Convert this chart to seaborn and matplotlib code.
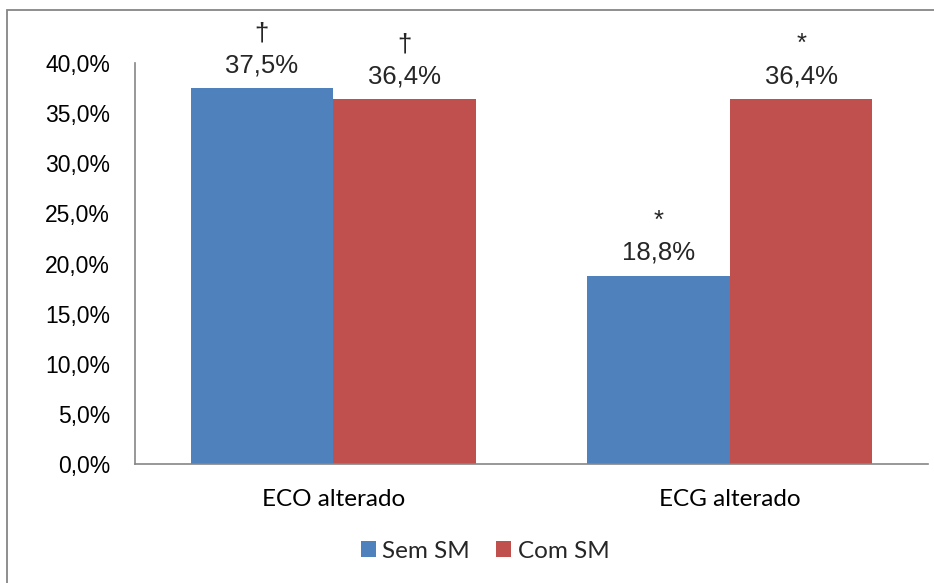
import pandas as pd
import seaborn as sns
import matplotlib.pyplot as plt
from matplotlib.patches import Rectangle

# data
categories = ['ECO alterado', 'ECG alterado']
groups = ['Sem SM', 'Com SM']
sem_sm = [37.5, 18.8]
com_sm = [36.4, 36.4]
sem_marks = ['†', '*']
com_marks = ['†', '*']
yticks = [0, 5, 10, 15, 20, 25, 30, 35, 40]

colors = ['#4F81BD', '#C0504D']
grey = '#868686'

sns.set_theme(style='white')
plt.rcParams['font.family'] = ['Liberation Sans', 'DejaVu Sans']

df = pd.DataFrame({
    'categoria': categories * 2,
    'grupo': [groups[0]] * len(categories) + [groups[1]] * len(categories),
    'valor': sem_sm + com_sm,
})

fig = plt.figure(figsize=(9.34, 5.83), dpi=100)
ax = fig.add_axes([135 / 934, 1 - 464 / 583, (928 - 135) / 934, 401 / 583])

sns.barplot(data=df, x='categoria', y='valor', hue='grupo', order=categories,
            hue_order=groups, palette=colors, saturation=1, width=0.72, gap=0,
            linewidth=0, errorbar=None, ax=ax)

ax.set_ylim(0, 40)
ax.set_xlim(-0.5, 1.5)
ax.set_xlabel('')
ax.set_ylabel('')
ax.set_yticks(yticks)
ax.set_yticklabels([f"{t:.1f}%".replace('.', ',') for t in yticks],
                   fontsize=16.5, family=['Liberation Sans'])
ax.set_xticks(range(len(categories)))
ax.set_xticklabels(categories, fontsize=17.5, family=['Lato'])
ax.tick_params(axis='y', length=0, pad=18, colors='black')
ax.tick_params(axis='x', length=0, pad=18, colors='black')
ax.grid(False)
for side in ['top', 'right']:
    ax.spines[side].set_visible(False)
for side in ['left', 'bottom']:
    ax.spines[side].set_color(grey)
    ax.spines[side].set_linewidth(1.2)

# value labels, with the significance mark on the line above
for container, values, marks in zip(ax.containers, [sem_sm, com_sm], [sem_marks, com_marks]):
    for bar, v, m in zip(container, values, marks):
        xy = (bar.get_x() + bar.get_width() / 2, bar.get_height())
        ax.annotate(f"{v:.1f}%".replace('.', ','), xy, xytext=(0, 11.5),
                    textcoords='offset points', ha='center', va='baseline',
                    fontsize=18.5, family=['Liberation Sans', 'DejaVu Sans'])
        ax.annotate(m, xy, xytext=(0, 34.5), textcoords='offset points',
                    ha='center', va='baseline', fontsize=18.5,
                    family=['Liberation Sans', 'DejaVu Sans'])

handles, labels = ax.get_legend_handles_labels()
ax.get_legend().remove()
fig.legend(handles, labels, loc='center', bbox_to_anchor=(485 / 934, 1 - 551 / 583),
           ncol=2, frameon=False, handlelength=0.62, handleheight=0.62, handletextpad=0.25,
           columnspacing=1.1, borderpad=0, prop={'family': 'Lato', 'size': 17.5})

# outer chart border
fig.add_artist(Rectangle((7 / 934, -0.05), 2, 1 - 9.5 / 583 + 0.05, transform=fig.transFigure,
                         fill=False, edgecolor=grey, linewidth=1.3))

fig.savefig('out.png', dpi=100)
